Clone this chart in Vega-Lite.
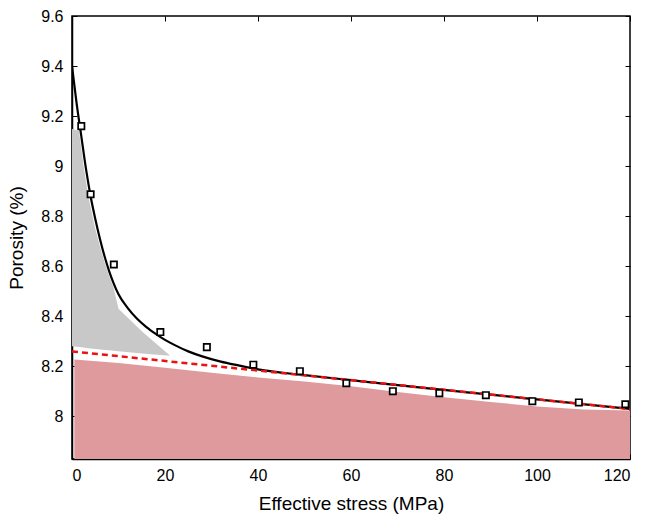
{
  "$schema": "https://vega.github.io/schema/vega-lite/v6.json",
  "width": 558,
  "height": 443,
  "autosize": {"type": "none"},
  "padding": {"left": 72, "top": 16, "right": 15, "bottom": 58},
  "background": "white",
  "view": {"stroke": "black", "strokeWidth": 1.5},
  "config": {
    "font": "Liberation Sans",
    "axis": {
      "labelFont": "Liberation Sans",
      "titleFont": "Liberation Sans",
      "labelFontSize": 16,
      "titleFontSize": 19,
      "titleFontWeight": "normal",
      "labelColor": "black",
      "titleColor": "black",
      "tickColor": "black",
      "domainColor": "black",
      "domainWidth": 1.5,
      "tickWidth": 1,
      "tickSize": -5,
      "grid": false
    }
  },
  "datasets": {
    "curve": [
      {"s": 0, "p": 9.40}, {"s": 1, "p": 9.25}, {"s": 2, "p": 9.12}, {"s": 3, "p": 8.99},
      {"s": 4, "p": 8.88}, {"s": 5, "p": 8.79}, {"s": 6, "p": 8.71}, {"s": 7, "p": 8.64},
      {"s": 8, "p": 8.58}, {"s": 9, "p": 8.53}, {"s": 10, "p": 8.488}, {"s": 12, "p": 8.433},
      {"s": 14, "p": 8.39}, {"s": 16, "p": 8.357}, {"s": 18, "p": 8.33}, {"s": 20, "p": 8.306},
      {"s": 22, "p": 8.286}, {"s": 25, "p": 8.26}, {"s": 28, "p": 8.24}, {"s": 32, "p": 8.219},
      {"s": 36, "p": 8.203}, {"s": 40, "p": 8.188}, {"s": 50, "p": 8.165}, {"s": 60, "p": 8.145},
      {"s": 70, "p": 8.125}, {"s": 80, "p": 8.106}, {"s": 90, "p": 8.087}, {"s": 100, "p": 8.068},
      {"s": 110, "p": 8.049}, {"s": 120, "p": 8.03}
    ],
    "linear": [
      {"s": 0, "p": 8.26}, {"s": 120, "p": 8.03}
    ],
    "gray": [
      {"s": 0, "top": 9.15, "bot": 8.28}, {"s": 1.5, "top": 9.14, "bot": 8.277},
      {"s": 2.5, "top": 9.0, "bot": 8.275}, {"s": 3.5, "top": 8.88, "bot": 8.273},
      {"s": 5, "top": 8.75, "bot": 8.27}, {"s": 6, "top": 8.68, "bot": 8.268},
      {"s": 7.1, "top": 8.61, "bot": 8.266}, {"s": 8, "top": 8.56, "bot": 8.265},
      {"s": 8.9, "top": 8.517, "bot": 8.263}, {"s": 10, "top": 8.43, "bot": 8.261},
      {"s": 15, "top": 8.34, "bot": 8.252}, {"s": 21, "top": 8.245, "bot": 8.243}
    ],
    "red": [
      {"s": 0.5, "top": 8.228}, {"s": 10, "top": 8.214}, {"s": 20, "top": 8.195},
      {"s": 30, "top": 8.175}, {"s": 40, "top": 8.156}, {"s": 50, "top": 8.14},
      {"s": 60, "top": 8.121}, {"s": 70, "top": 8.098}, {"s": 80, "top": 8.077},
      {"s": 90, "top": 8.058}, {"s": 100, "top": 8.04}, {"s": 110, "top": 8.028},
      {"s": 120, "top": 8.024}
    ],
    "points": [
      {"s": 2, "p": 9.16}, {"s": 4, "p": 8.888}, {"s": 9, "p": 8.607}, {"s": 19, "p": 8.337},
      {"s": 29, "p": 8.277}, {"s": 39, "p": 8.207}, {"s": 49, "p": 8.181}, {"s": 59, "p": 8.133},
      {"s": 69, "p": 8.101}, {"s": 79, "p": 8.093}, {"s": 89, "p": 8.085}, {"s": 99, "p": 8.061},
      {"s": 109, "p": 8.056}, {"s": 119, "p": 8.049}
    ]
  },
  "resolve": {"axis": {"x": "independent", "y": "independent"}},
  "layer": [
    {
      "data": {"name": "gray"},
      "mark": {"type": "area", "color": "#c8c8c8", "clip": true},
      "encoding": {
        "x": {"field": "s", "type": "quantitative", "scale": {"domain": [0, 120]},
              "axis": {"title": "Effective stress (MPa)", "values": [0, 20, 40, 60, 80, 100, 120], "labelPadding": 13, "titlePadding": 11}},
        "y": {"field": "top", "type": "quantitative", "scale": {"domain": [7.83, 9.6], "zero": false, "nice": false},
              "axis": {"title": "Porosity (%)", "values": [8, 8.2, 8.4, 8.6, 8.8, 9, 9.2, 9.4, 9.6], "format": "~g", "labelPadding": 14, "titlePadding": 14}},
        "y2": {"field": "bot"}
      }
    },
    {
      "data": {"name": "red"},
      "mark": {"type": "area", "color": "#de9a9c", "clip": true},
      "encoding": {
        "x": {"field": "s", "type": "quantitative", "axis": {"orient": "top", "labels": false, "title": null, "domain": false, "values": [0, 20, 40, 60, 80, 100, 120]}},
        "y": {"field": "top", "type": "quantitative", "axis": {"orient": "right", "labels": false, "title": null, "domain": false, "values": [8, 8.2, 8.4, 8.6, 8.8, 9, 9.2, 9.4, 9.6]}},
        "y2": {"datum": 7.83}
      }
    },
    {
      "data": {"name": "curve"},
      "mark": {"type": "line", "color": "black", "strokeWidth": 2.2, "interpolate": "monotone", "clip": true},
      "encoding": {
        "x": {"field": "s", "type": "quantitative", "axis": null},
        "y": {"field": "p", "type": "quantitative", "axis": null}
      }
    },
    {
      "data": {"name": "linear"},
      "mark": {"type": "line", "color": "#ee1111", "strokeWidth": 2.5, "strokeDash": [6, 4], "clip": true},
      "encoding": {
        "x": {"field": "s", "type": "quantitative", "axis": null},
        "y": {"field": "p", "type": "quantitative", "axis": null}
      }
    },
    {
      "data": {"name": "points"},
      "mark": {"type": "square", "filled": false, "fill": "white", "fillOpacity": 1, "stroke": "black", "strokeWidth": 1.7, "size": 40, "opacity": 1},
      "encoding": {
        "x": {"field": "s", "type": "quantitative", "axis": null},
        "y": {"field": "p", "type": "quantitative", "axis": null}
      }
    }
  ]
}
